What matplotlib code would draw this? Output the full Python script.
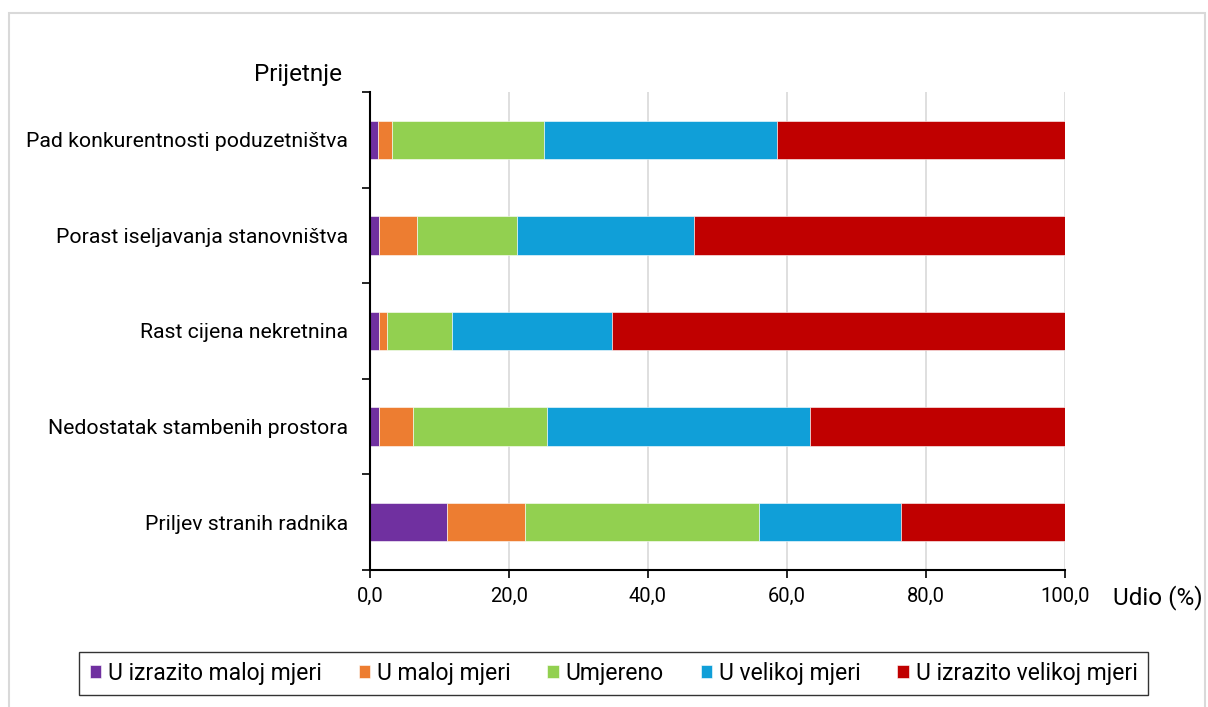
import matplotlib.pyplot as plt
from matplotlib.patches import Rectangle

plt.rcParams['font.family'] = ['Roboto', 'DejaVu Sans']

# Data (share in %)
categories = [
    "Pad konkurentnosti poduzetništva",
    "Porast iseljavanja stanovništva",
    "Rast cijena nekretnina",
    "Nedostatak stambenih prostora",
    "Priljev stranih radnika",
]
series_names = [
    "U izrazito maloj mjeri",
    "U maloj mjeri",
    "Umjereno",
    "U velikoj mjeri",
    "U izrazito velikoj mjeri",
]
izrazito_malo = [1.2, 1.3, 1.3, 1.3, 11.1]
malo = [1.9, 5.5, 1.1, 4.9, 11.2]
umjereno = [21.9, 14.4, 9.4, 19.3, 33.7]
veliko = [33.5, 25.4, 23.0, 37.8, 20.4]
izrazito_veliko = [41.5, 53.4, 65.2, 36.7, 23.6]
colors = ["#7030A0", "#ED7D31", "#92D050", "#109FD8", "#C00000"]
x_ticks = [0, 20, 40, 60, 80, 100]
x_tick_labels = ["0,0", "20,0", "40,0", "60,0", "80,0", "100,0"]

series = [izrazito_malo, malo, umjereno, veliko, izrazito_veliko]

fig = plt.figure(figsize=(12.08, 7.07), dpi=100)
ax = fig.add_axes([0.3063, 0.1938, 0.5753, 0.6761])

# top category first
ypos = list(range(len(categories)))[::-1]
left = [0.0] * len(categories)
for name, vals, col in zip(series_names, series, colors):
    ax.barh(ypos, vals, left=left, height=0.4, color=col, label=name,
            edgecolor="white", linewidth=0.4, zorder=3)
    left = [l + v for l, v in zip(left, vals)]

ax.set_xlim(0, 100)
ax.set_ylim(-0.5, len(categories) - 0.5)
ax.set_xticks(x_ticks)
ax.set_xticklabels(x_tick_labels, fontsize=14.5)
ax.set_yticks(ypos)
ax.set_yticklabels(categories, fontsize=15.3)
ax.set_yticks([i - 0.5 for i in range(len(categories) + 1)], minor=True)
ax.tick_params(axis="y", which="major", length=0, pad=16)
ax.tick_params(axis="y", which="minor", length=6, width=1.2, direction="out")
ax.tick_params(axis="x", length=6, width=1.2, direction="out", pad=6)

ax.grid(axis="x", color="#d9d9d9", linewidth=1.2, zorder=0)
for s in ["top", "right"]:
    ax.spines[s].set_visible(False)
for s in ["left", "bottom"]:
    ax.spines[s].set_linewidth(1.5)
    ax.spines[s].set_zorder(4)

fig.text(342 / 1208, 1 - 74 / 707, "Prijetnje", fontsize=17.5, ha="right", va="center")
fig.text(1113 / 1208, 1 - 598 / 707, "Udio (%)", fontsize=17.5, ha="left", va="center")

leg = fig.legend(loc="center", bbox_to_anchor=(0.508, 0.0474), ncol=5,
                 fontsize=16.5, frameon=True, fancybox=False, edgecolor="black",
                 handlelength=0.5, handleheight=0.5, handletextpad=0.3,
                 columnspacing=1.6, borderpad=0.45, borderaxespad=0)
leg.get_frame().set_linewidth(1.0)

# light outer frame
fig.patches.append(Rectangle((9 / 1208, -0.05), 1196 / 1208, 1.05 - 13 / 707,
                             transform=fig.transFigure, fill=False,
                             edgecolor="#d9d9d9", linewidth=1.5))

fig.savefig("out.png", dpi=100)
